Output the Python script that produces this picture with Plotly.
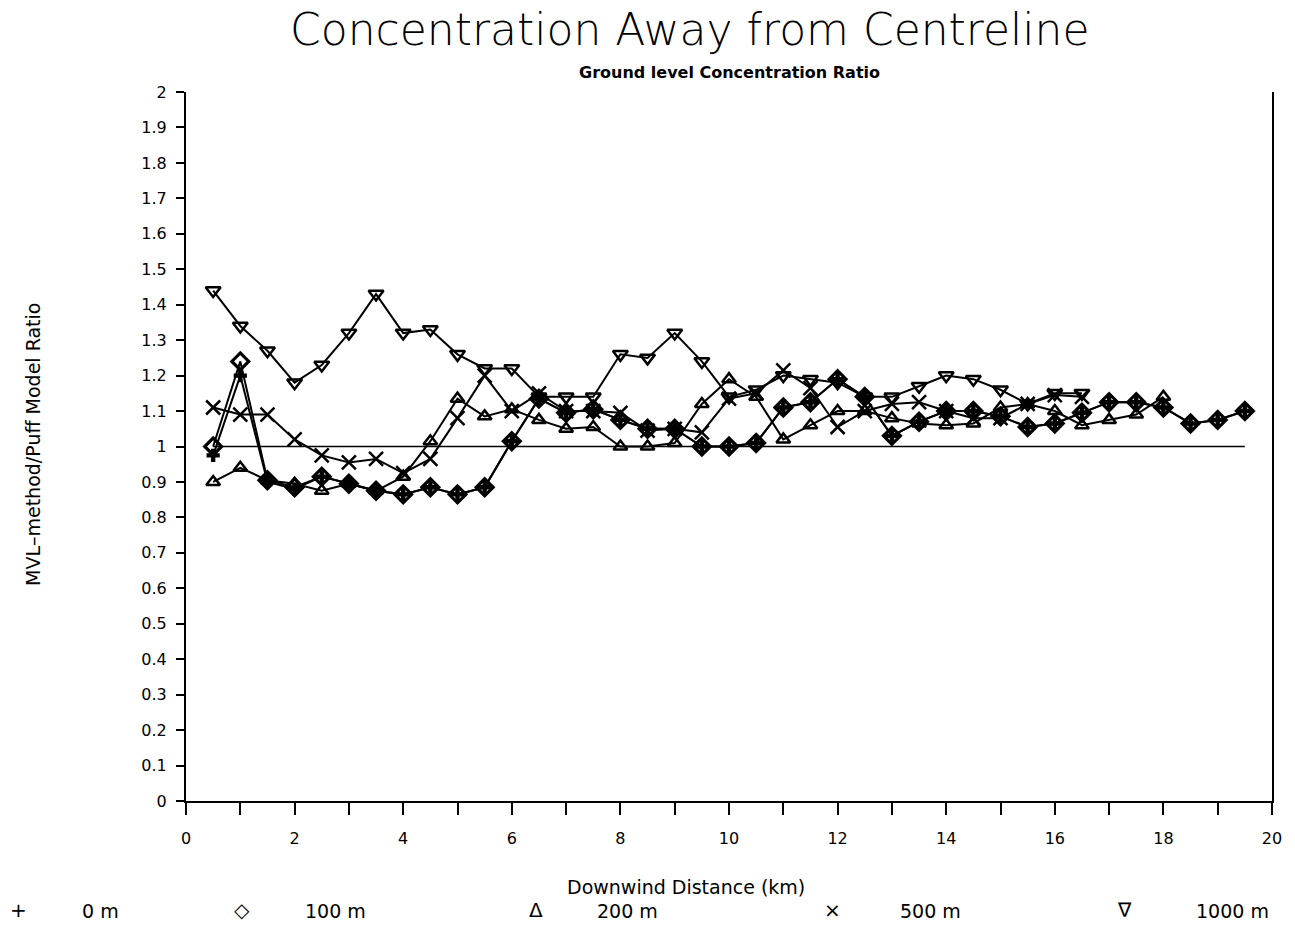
import plotly.graph_objects as go

# ---------------- data ----------------
dist_km = [0.5, 1.0, 1.5, 2.0, 2.5, 3.0, 3.5, 4.0, 4.5, 5.0, 5.5, 6.0, 6.5, 7.0,
           7.5, 8.0, 8.5, 9.0, 9.5, 10.0, 10.5, 11.0, 11.5, 12.0, 12.5, 13.0,
           13.5, 14.0, 14.5, 15.0, 15.5, 16.0, 16.5, 17.0, 17.5, 18.0, 18.5,
           19.0, 19.5]

ratio_0m = [0.975, 1.20, 0.90, 0.88, 0.915, 0.895, 0.875, 0.865, 0.885, 0.865,
            0.885, 1.015, 1.135, 1.095, 1.105, 1.075, 1.05, 1.05, 1.00, 1.00,
            1.01, 1.11, 1.125, 1.19, 1.14, 1.03, 1.07, 1.10, 1.10, 1.085,
            1.055, 1.065, 1.095, 1.125, 1.125, 1.11, 1.065, 1.075, 1.10]

ratio_100m = [1.00, 1.24, 0.905, 0.885, 0.915, 0.895, 0.875, 0.865, 0.885, 0.865,
              0.885, 1.015, 1.135, 1.095, 1.105, 1.075, 1.05, 1.05, 1.00, 1.00,
              1.01, 1.11, 1.125, 1.19, 1.14, 1.03, 1.07, 1.10, 1.10, 1.085,
              1.055, 1.065, 1.095, 1.125, 1.125, 1.11, 1.065, 1.075, 1.10]

ratio_200m = [0.90, 0.94, 0.905, 0.895, 0.875, 0.895, 0.875, 0.915, 1.015, 1.135,
              1.085, 1.105, 1.075, 1.05, 1.055, 1.00, 1.00, 1.01, 1.12, 1.19,
              1.14, 1.02, 1.06, 1.10, 1.10, 1.08, 1.065, 1.06, 1.065, 1.11,
              1.12, 1.10, 1.06, 1.075, 1.09, 1.14]

ratio_500m = [1.11, 1.09, 1.09, 1.02, 0.975, 0.955, 0.965, 0.925, 0.965, 1.08,
              1.20, 1.10, 1.15, 1.10, 1.10, 1.095, 1.045, 1.05, 1.04, 1.135,
              1.15, 1.215, 1.165, 1.055, 1.10, 1.12, 1.125, 1.10, 1.08, 1.08,
              1.12, 1.145, 1.14]

ratio_1000m = [1.44, 1.34, 1.27, 1.18, 1.23, 1.32, 1.43, 1.32, 1.33, 1.26,
               1.22, 1.22, 1.14, 1.14, 1.14, 1.26, 1.25, 1.32, 1.24, 1.14,
               1.16, 1.20, 1.19, 1.18, 1.14, 1.14, 1.17, 1.20, 1.19, 1.16,
               1.12, 1.15, 1.15]

ref_x = [0.5, 19.5]
ref_y = [1.0, 1.0]

x_tick_vals = list(range(0, 21))
x_tick_text = ["0", "", "2", "", "4", "", "6", "", "8", "", "10", "", "12", "",
               "14", "", "16", "", "18", "", "20"]
y_tick_vals = [0, 0.1, 0.2, 0.3, 0.4, 0.5, 0.6, 0.7, 0.8, 0.9, 1.0, 1.1, 1.2,
               1.3, 1.4, 1.5, 1.6, 1.7, 1.8, 1.9, 2.0]
y_tick_text = ["0", "0.1", "0.2", "0.3", "0.4", "0.5", "0.6", "0.7", "0.8", "0.9",
               "1", "1.1", "1.2", "1.3", "1.4", "1.5", "1.6", "1.7", "1.8", "1.9", "2"]

legend_symbols = ["+", "\u25C7", "\u0394", "\u00D7", "\u2207"]
legend_labels = ["0 m", "100 m", "200 m", "500 m", "1000 m"]

# ---------------- layout helpers ----------------
W, H = 1295, 925
L, R, T, B = 186, 1272, 92, 801


def px(xp):
    return (xp - L) / (R - L)


def py(yp):
    return (B - yp) / (B - T)


fig = go.Figure()

fig.add_trace(go.Scatter(x=ref_x, y=ref_y, mode="lines",
                         line=dict(color="black", width=1.5),
                         hoverinfo="skip", name="ratio = 1"))

series = [
    (ratio_1000m, "1000 m", dict(symbol="triangle-down-open", size=13,
                                 line=dict(width=2.5, color="black"))),
    (ratio_500m, "500 m", dict(symbol="x-thin-open", size=14,
                               line=dict(width=2.5, color="black"))),
    (ratio_200m, "200 m", dict(symbol="triangle-up-open", size=12,
                               line=dict(width=2.5, color="black"))),
    (ratio_100m, "100 m", dict(symbol="diamond-open", size=13,
                               line=dict(width=3.2, color="black"))),
    (ratio_0m, "0 m", dict(symbol="cross", size=11,
                           line=dict(width=0))),
]

for vals, name, marker in series:
    fig.add_trace(go.Scatter(
        x=dist_km[:len(vals)], y=vals, mode="lines+markers", name=name,
        line=dict(color="black", width=2),
        marker=dict(color="black", **marker),
    ))

tick_font = "DejaVu Sans"
text_font = "DejaVu Sans"

fig.update_layout(
    width=W, height=H,
    margin=dict(l=L, r=W - R, t=T, b=H - B),
    paper_bgcolor="white", plot_bgcolor="white",
    showlegend=False,
    font=dict(family=text_font, color="black", size=15),
    xaxis=dict(range=[0, 20], tickvals=x_tick_vals, ticktext=x_tick_text,
               showline=True, linecolor="black", linewidth=2,
               ticks="outside", ticklen=12, tickwidth=1.5, tickcolor="black",
               showgrid=False, zeroline=False, ticklabelstandoff=10,
               tickfont=dict(family=tick_font, size=16, color="black")),
    yaxis=dict(range=[0, 2], tickvals=y_tick_vals, ticktext=y_tick_text,
               showline=True, linecolor="black", linewidth=2, mirror=True,
               ticks="outside", ticklen=8, tickwidth=1.5, tickcolor="black",
               showgrid=False, zeroline=False, ticklabelstandoff=6,
               tickfont=dict(family=tick_font, size=16, color="black")),
)

annotations = [
    dict(text="Concentration Away from Centreline", x=px(689), y=py(30),
         xref="paper", yref="paper", showarrow=False, xanchor="center",
         yanchor="middle",
         font=dict(family="DejaVu Sans", size=44, color="black", weight=200)),
    dict(text="<b>Ground level Concentration Ratio</b>", x=px(729), y=py(72),
         xref="paper", yref="paper", showarrow=False, xanchor="center",
         yanchor="middle", font=dict(family=text_font, size=16, color="black")),
    dict(text="Downwind Distance (km)", x=px(686), y=py(887),
         xref="paper", yref="paper", showarrow=False, xanchor="center",
         yanchor="middle", font=dict(family=text_font, size=19, color="black")),
    dict(text="MVL\u2013method/Puff Model Ratio", x=px(33), y=py(445),
         xref="paper", yref="paper", showarrow=False, xanchor="center",
         yanchor="middle", textangle=-90,
         font=dict(family=text_font, size=19, color="black")),
]

sym_x = [18, 242, 536, 832, 1124]
lab_x = [100, 335, 627, 930, 1232]
for sx, lx, s, t in zip(sym_x, lab_x, legend_symbols, legend_labels):
    annotations.append(dict(text=s, x=px(sx), y=py(910), xref="paper", yref="paper",
                            showarrow=False, xanchor="center", yanchor="middle",
                            font=dict(family="DejaVu Sans", size=20, color="black")))
    annotations.append(dict(text=t, x=px(lx), y=py(911), xref="paper", yref="paper",
                            showarrow=False, xanchor="center", yanchor="middle",
                            font=dict(family=text_font, size=19, color="black")))

fig.update_layout(annotations=annotations)

fig.write_html("out.html")
